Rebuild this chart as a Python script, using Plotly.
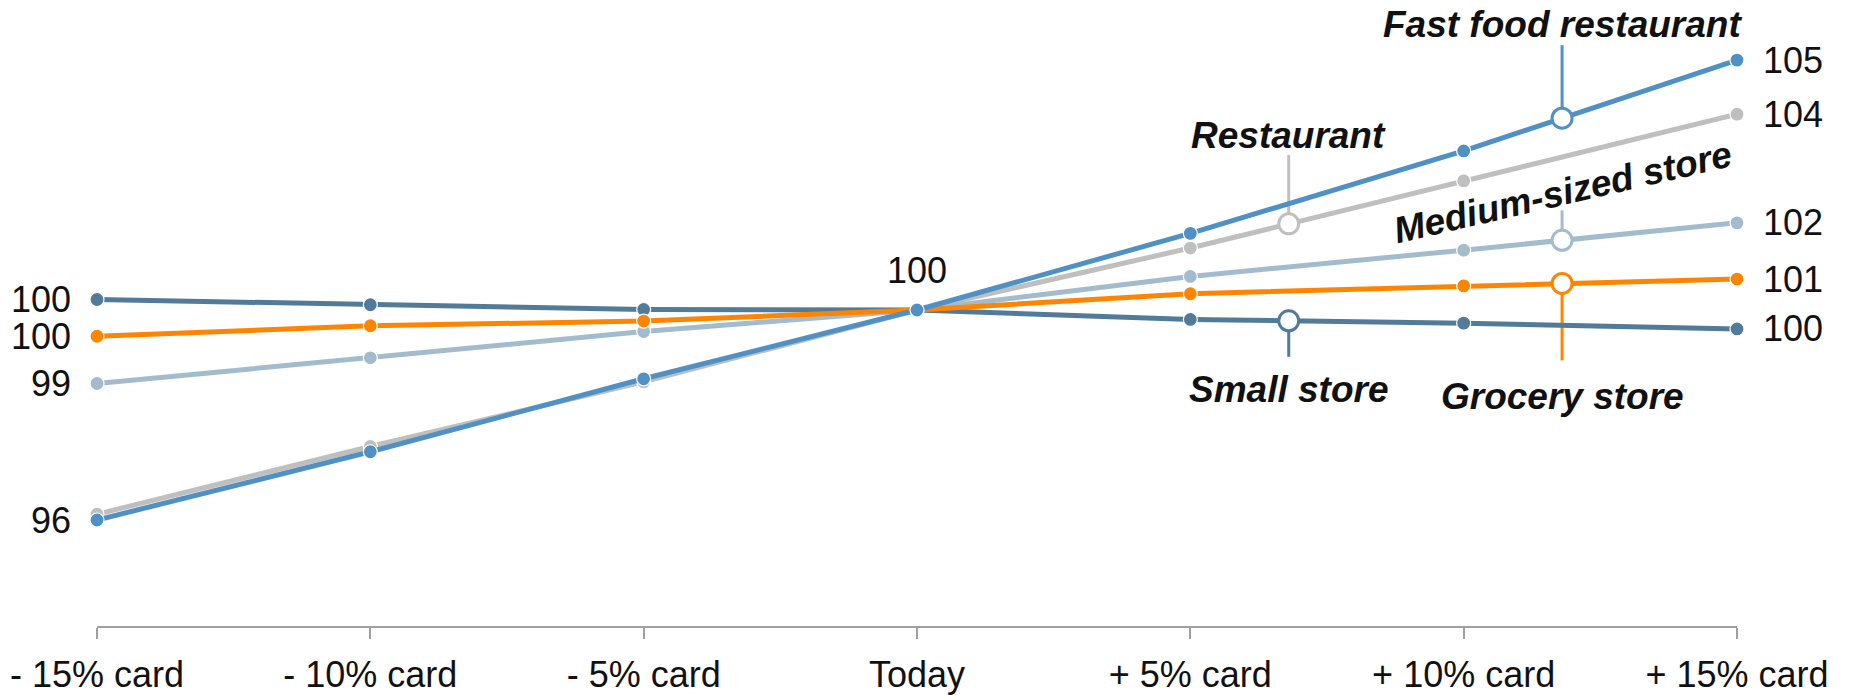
import numpy as np
import plotly.graph_objects as go

# Index values per card-usage scenario (Today = 100)
categories = ["- 15% card", "- 10% card", "- 5% card", "Today", "+ 5% card", "+ 10% card", "+ 15% card"]
fast_food = [96.0, 97.3, 98.69, 100.0, 101.46, 103.03, 104.76]
restaurant = [96.11, 97.4, 98.63, 100.0, 101.18, 102.46, 103.73]
medium_store = [98.6, 99.09, 99.59, 100.0, 100.64, 101.14, 101.66]
grocery_store = [99.5, 99.7, 99.79, 100.0, 100.31, 100.46, 100.59]
small_store = [100.2, 100.1, 100.01, 100.0, 99.82, 99.75, 99.64]

series_names = ["Restaurant", "Medium-sized store", "Small store", "Grocery store", "Fast food restaurant"]
series_values = [restaurant, medium_store, small_store, grocery_store, fast_food]
series_colors = ["#bfbfbf", "#a3bccd", "#527b9a", "#ff8500", "#4f91c5"]
# Restaurant and fast food start at the same point, so only one start label is shown
show_start_label = [False, True, True, True, True]

# Where each name tag sits along its line (x position in category units)
tag_x = [4.36, 5.36, 4.36, 5.36, 5.36]
# Leader line (pixel offsets from the circle) and label offset / rotation
tag_leader = [(10, 69), (10, 30), (-10, -36), (-10, -77), (10, 73)]
tag_shift = [88, 48, -69, -113, 94]
tag_angle = [0, -13, 0, 0, 0]

FONT = "Liberation Sans, Arial, sans-serif"
TEXT = "#111111"
x_idx = list(range(len(categories)))


def label(v):
    return f"{int(np.floor(v + 0.5)):d}"


fig = go.Figure()

for name, vals, col in zip(series_names, series_values, series_colors):
    fig.add_trace(go.Scatter(
        x=x_idx, y=vals, mode="lines+markers", name=name,
        line=dict(color=col, width=5),
        marker=dict(size=14, color=col, line=dict(color="white", width=1.2)),
        cliponaxis=False, showlegend=False, hoverinfo="skip",
    ))

annotations = []
shapes = []
for name, vals, col, tx, (l0, l1), ys, ang in zip(series_names, series_values, series_colors,
                                                    tag_x, tag_leader, tag_shift, tag_angle):
    ty = float(np.interp(tx, x_idx, vals))
    shapes.append(dict(
        type="line", xref="x", yref="y", ysizemode="pixel", yanchor=ty,
        x0=tx, x1=tx, y0=l0, y1=l1, line=dict(color=col, width=3), layer="below",
    ))
    fig.add_trace(go.Scatter(
        x=[tx], y=[ty], mode="markers",
        marker=dict(size=20, color="white", line=dict(color=col, width=3)),
        cliponaxis=False, showlegend=False, hoverinfo="skip",
    ))
    annotations.append(dict(
        x=tx, y=ty, xref="x", yref="y", yshift=ys, showarrow=False,
        text=f"<b><i>{name}</i></b>", textangle=ang,
        font=dict(family=FONT, size=37, color=TEXT),
        xanchor="center", yanchor="middle",
    ))

# End-point value labels
for vals, show in zip(series_values, show_start_label):
    if show:
        annotations.append(dict(
            x=x_idx[0], y=vals[0], xref="x", yref="y", xshift=-24, showarrow=False,
            text=label(vals[0]), xanchor="right", yanchor="middle",
            font=dict(family=FONT, size=36, color=TEXT),
        ))
    annotations.append(dict(
        x=x_idx[-1], y=vals[-1], xref="x", yref="y", xshift=24, showarrow=False,
        text=label(vals[-1]), xanchor="left", yanchor="middle",
        font=dict(family=FONT, size=36, color=TEXT),
    ))

# Value at today
annotations.append(dict(
    x=x_idx[3], y=fast_food[3], xref="x", yref="y", yshift=40, showarrow=False,
    text=label(fast_food[3]), xanchor="center", yanchor="middle",
    font=dict(family=FONT, size=36, color=TEXT),
))

fig.update_layout(
    width=1852, height=695,
    margin=dict(l=97, r=115, t=0, b=69, autoexpand=False),
    paper_bgcolor="white", plot_bgcolor="white",
    hovermode=False,
    shapes=shapes, annotations=annotations,
    xaxis=dict(
        range=[0, 6], tickmode="array", tickvals=x_idx, ticktext=categories,
        showgrid=False, zeroline=False, automargin=False,
        showline=True, linecolor="#a0a0a0", linewidth=2,
        ticks="outside", ticklen=11, tickwidth=1.5, tickcolor="#a0a0a0",
        tickfont=dict(family=FONT, size=36, color=TEXT),
        ticklabelstandoff=5,
    ),
    yaxis=dict(range=[93.981, 105.905], visible=False, showgrid=False,
               zeroline=False, automargin=False),
)

fig.write_html("out.html")
